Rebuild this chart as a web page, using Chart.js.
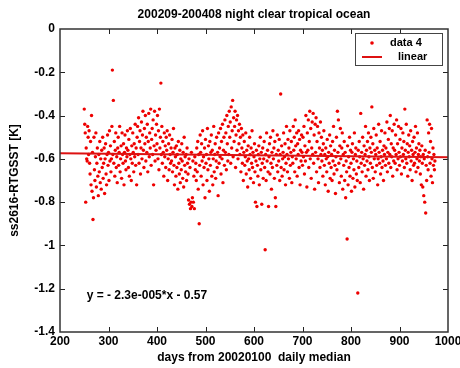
<!DOCTYPE html>
<html>
<head>
<meta charset="utf-8">
<script src="https://cdn.jsdelivr.net/npm/chart.js@4"></script>
<style>
  html, body { margin: 0; padding: 0; background: #fff; }
  canvas { display: block; }
</style>
</head>
<body>
<canvas id="median-chart" width="460" height="368"></canvas>
<script>
// days 250..973, one value per day (K)
const firstDay = 250;
const medianValues = [
  -0.37,-0.44,-0.48,-0.80,-0.55,-0.60,-0.61,-0.45,-0.50,-0.58,
  -0.47,-0.62,-0.67,-0.52,-0.72,-0.40,-0.75,-0.57,-0.88,-0.78,
  -0.50,-0.65,-0.70,-0.59,-0.48,-0.73,-0.62,-0.55,-0.68,-0.77,
  -0.58,-0.66,-0.52,-0.71,-0.60,-0.74,-0.56,-0.64,-0.50,-0.69,
  -0.62,-0.55,-0.76,-0.60,-0.53,-0.67,-0.72,-0.58,-0.49,-0.63,
  -0.57,-0.70,-0.47,-0.61,-0.54,-0.66,-0.60,-0.45,-0.19,-0.58,
  -0.33,-0.62,-0.52,-0.68,-0.56,-0.48,-0.64,-0.59,-0.71,-0.55,
  -0.50,-0.63,-0.57,-0.45,-0.66,-0.60,-0.54,-0.69,-0.48,-0.58,
  -0.62,-0.53,-0.72,-0.57,-0.49,-0.61,-0.65,-0.55,-0.59,-0.47,
  -0.56,-0.64,-0.51,-0.68,-0.58,-0.46,-0.60,-0.70,-0.54,-0.62,
  -0.48,-0.57,-0.66,-0.53,-0.59,-0.44,-0.63,-0.55,-0.72,-0.50,
  -0.45,-0.58,-0.41,-0.62,-0.52,-0.47,-0.67,-0.55,-0.43,-0.60,
  -0.49,-0.38,-0.56,-0.64,-0.46,-0.53,-0.40,-0.61,-0.50,-0.57,
  -0.44,-0.66,-0.52,-0.39,-0.59,-0.48,-0.55,-0.37,-0.63,-0.51,
  -0.46,-0.58,-0.42,-0.72,-0.54,-0.38,-0.61,-0.49,-0.56,-0.44,
  -0.53,-0.40,-0.60,-0.47,-0.65,-0.37,-0.55,-0.50,-0.25,-0.58,
  -0.45,-0.62,-0.52,-0.57,-0.68,-0.48,-0.59,-0.54,-0.64,-0.50,
  -0.56,-0.47,-0.70,-0.60,-0.53,-0.65,-0.49,-0.58,-0.62,-0.55,
  -0.61,-0.51,-0.66,-0.57,-0.46,-0.63,-0.72,-0.55,-0.59,-0.68,
  -0.54,-0.64,-0.58,-0.74,-0.52,-0.62,-0.67,-0.56,-0.71,-0.60,
  -0.65,-0.53,-0.61,-0.69,-0.57,-0.73,-0.50,-0.63,-0.59,-0.66,
  -0.58,-0.70,-0.55,-0.62,-0.67,-0.79,-0.60,-0.81,-0.64,-0.83,
  -0.80,-0.57,-0.82,-0.78,-0.61,-0.80,-0.68,-0.83,-0.59,-0.65,
  -0.62,-0.70,-0.55,-0.66,-0.52,-0.74,-0.58,-0.90,-0.63,-0.49,
  -0.57,-0.68,-0.53,-0.61,-0.47,-0.72,-0.59,-0.64,-0.55,-0.78,
  -0.51,-0.62,-0.58,-0.70,-0.46,-0.65,-0.54,-0.60,-0.75,-0.52,
  -0.63,-0.57,-0.49,-0.68,-0.56,-0.72,-0.60,-0.45,-0.66,-0.58,
  -0.53,-0.69,-0.61,-0.50,-0.64,-0.57,-0.77,-0.48,-0.62,-0.55,
  -0.59,-0.46,-0.67,-0.52,-0.60,-0.44,-0.71,-0.56,-0.50,-0.63,
  -0.42,-0.57,-0.48,-0.65,-0.40,-0.53,-0.61,-0.45,-0.58,-0.38,
  -0.50,-0.43,-0.62,-0.36,-0.55,-0.47,-0.33,-0.59,-0.41,-0.52,
  -0.45,-0.38,-0.64,-0.49,-0.42,-0.56,-0.40,-0.60,-0.47,-0.53,
  -0.44,-0.58,-0.50,-0.66,-0.46,-0.55,-0.62,-0.49,-0.70,-0.57,
  -0.52,-0.63,-0.59,-0.48,-0.67,-0.56,-0.61,-0.73,-0.54,-0.60,
  -0.65,-0.50,-0.58,-0.69,-0.55,-0.62,-0.47,-0.64,-0.57,-0.71,
  -0.59,-0.53,-0.66,-0.80,-0.61,-0.56,-0.82,-0.63,-0.68,-0.58,
  -0.54,-0.72,-0.60,-0.50,-0.65,-0.57,-0.81,-0.62,-0.55,-0.69,
  -0.60,-0.52,-0.64,-1.02,-0.58,-0.70,-0.48,-0.61,-0.56,-0.66,
  -0.82,-0.59,-0.53,-0.67,-0.50,-0.62,-0.74,-0.57,-0.64,-0.47,
  -0.60,-0.55,-0.69,-0.52,-0.78,-0.82,-0.58,-0.63,-0.49,-0.66,
  -0.56,-0.61,-0.51,-0.70,-0.58,-0.30,-0.64,-0.54,-0.68,-0.60,
  -0.57,-0.48,-0.65,-0.59,-0.53,-0.72,-0.62,-0.45,-0.58,-0.66,
  -0.51,-0.60,-0.55,-0.69,-0.47,-0.63,-0.57,-0.52,-0.71,-0.59,
  -0.62,-0.45,-0.56,-0.50,-0.66,-0.42,-0.54,-0.60,-0.48,-0.68,
  -0.53,-0.58,-0.47,-0.64,-0.51,-0.72,-0.56,-0.61,-0.49,-0.57,
  -0.63,-0.50,-0.59,-0.45,-0.67,-0.54,-0.61,-0.40,-0.57,-0.73,
  -0.48,-0.56,-0.42,-0.64,-0.52,-0.38,-0.60,-0.46,-0.69,-0.55,
  -0.43,-0.58,-0.39,-0.62,-0.49,-0.74,-0.44,-0.57,-0.41,-0.66,
  -0.52,-0.45,-0.60,-0.71,-0.48,-0.55,-0.64,-0.43,-0.58,-0.50,
  -0.61,-0.56,-0.68,-0.53,-0.47,-0.63,-0.58,-0.72,-0.55,-0.60,
  -0.66,-0.51,-0.59,-0.75,-0.57,-0.62,-0.49,-0.69,-0.54,-0.64,
  -0.58,-0.70,-0.52,-0.61,-0.45,-0.67,-0.56,-0.63,-0.76,-0.59,
  -0.50,-0.65,-0.38,-0.57,-0.42,-0.62,-0.71,-0.54,-0.46,-0.60,
  -0.68,-0.55,-0.48,-0.74,-0.58,-0.63,-0.52,-0.70,-0.57,-0.78,
  -0.61,-0.66,-0.97,-0.54,-0.72,-0.59,-0.64,-0.50,-0.68,-0.56,
  -0.62,-0.75,-0.57,-0.53,-0.69,-0.60,-0.65,-0.48,-0.73,-0.58,
  -0.55,-0.67,-0.61,-0.70,-1.22,-0.56,-0.64,-0.52,-0.59,-0.71,
  -0.39,-0.62,-0.57,-0.66,-0.50,-0.60,-0.74,-0.54,-0.63,-0.58,
  -0.45,-0.68,-0.56,-0.61,-0.52,-0.65,-0.48,-0.59,-0.70,-0.55,
  -0.62,-0.50,-0.57,-0.36,-0.64,-0.53,-0.69,-0.46,-0.60,-0.56,
  -0.66,-0.58,-0.49,-0.63,-0.55,-0.72,-0.60,-0.44,-0.57,-0.62,
  -0.52,-0.67,-0.59,-0.47,-0.64,-0.56,-0.61,-0.70,-0.54,-0.58,
  -0.48,-0.63,-0.55,-0.60,-0.43,-0.66,-0.57,-0.51,-0.62,-0.46,
  -0.58,-0.40,-0.64,-0.53,-0.59,-0.47,-0.68,-0.55,-0.61,-0.44,
  -0.56,-0.62,-0.49,-0.58,-0.42,-0.65,-0.53,-0.60,-0.45,-0.57,
  -0.63,-0.51,-0.59,-0.46,-0.67,-0.55,-0.61,-0.48,-0.58,-0.52,
  -0.64,-0.37,-0.56,-0.60,-0.44,-0.62,-0.53,-0.68,-0.57,-0.49,
  -0.59,-0.54,-0.65,-0.47,-0.61,-0.56,-0.70,-0.52,-0.58,-0.63,
  -0.50,-0.62,-0.57,-0.45,-0.66,-0.55,-0.60,-0.48,-0.64,-0.58,
  -0.53,-0.61,-0.56,-0.67,-0.59,-0.72,-0.54,-0.62,-0.73,-0.58,
  -0.77,-0.60,-0.80,-0.56,-0.85,-0.63,-0.70,-0.42,-0.59,-0.65,
  -0.48,-0.57,-0.44,-0.62,-0.52,-0.68,-0.46,-0.60,-0.71,-0.55,
  -0.63,-0.58,-0.65,-0.61
];

// linear fit y = -2.3e-005*x - 0.57, ends at the axis limits
const fitX = [200, 1000];
const fitY = [-0.5746, -0.593];

const xTicks = [200, 300, 400, 500, 600, 700, 800, 900, 1000];
const yTicks = [0, -0.2, -0.4, -0.6, -0.8, -1, -1.2, -1.4];

const RED = "#ee0000";
const FONT = "'Liberation Sans', Arial, sans-serif";

const points = medianValues.map((v, i) => ({ x: firstDay + i, y: v }));
const fitLine = fitX.map((x, i) => ({ x, y: fitY[i] }));

// khung, vạch chia phía trong, chú thích và phương trình
const frameDeco = {
  id: "frameDeco",
  afterDatasetsDraw(chart) {
    const { ctx, chartArea: a, scales } = chart;
    ctx.save();
    ctx.strokeStyle = "#222";
    ctx.lineWidth = 1;
    // inside ticks
    ctx.beginPath();
    xTicks.slice(1, -1).forEach((t) => {
      const px = Math.round(scales.x.getPixelForValue(t)) + 0.5;
      ctx.moveTo(px, a.bottom); ctx.lineTo(px, a.bottom - 5);
      ctx.moveTo(px, a.top); ctx.lineTo(px, a.top + 5);
    });
    yTicks.slice(1, -1).forEach((t) => {
      const py = Math.round(scales.y.getPixelForValue(t)) + 0.5;
      ctx.moveTo(a.left, py); ctx.lineTo(a.left + 5, py);
      ctx.moveTo(a.right, py); ctx.lineTo(a.right - 5, py);
    });
    ctx.stroke();
    // box
    ctx.lineWidth = 1.5;
    ctx.strokeStyle = "#333";
    ctx.strokeRect(a.left, a.top, a.right - a.left, a.bottom - a.top);

    // legend
    const lx = a.right - 93, ly = a.top + 4, lw = 87, lh = 32;
    ctx.fillStyle = "#fff";
    ctx.fillRect(lx, ly, lw, lh);
    ctx.lineWidth = 1;
    ctx.strokeStyle = "#444";
    ctx.strokeRect(lx + 0.5, ly + 0.5, lw, lh);
    ctx.fillStyle = RED;
    ctx.beginPath();
    ctx.arc(lx + 17, ly + 10, 1.8, 0, Math.PI * 2);
    ctx.fill();
    ctx.strokeStyle = "#dd1111";
    ctx.lineWidth = 2;
    ctx.beginPath();
    ctx.moveTo(lx + 7, ly + 24); ctx.lineTo(lx + 27, ly + 24);
    ctx.stroke();
    ctx.fillStyle = "#000";
    ctx.font = "bold 11px " + FONT;
    ctx.textBaseline = "middle";
    ctx.textAlign = "left";
    ctx.fillText("data 4", lx + 35, ly + 10);
    ctx.fillText("linear", lx + 43, ly + 24);

    // fit equation
    ctx.font = "bold 12px " + FONT;
    ctx.fillText("y = - 2.3e-005*x - 0.57",
      scales.x.getPixelForValue(255), scales.y.getPixelForValue(-1.234));
    ctx.restore();
  },
};

const whiteBg = {
  id: "whiteBg",
  beforeDraw(chart) {
    const { ctx, width, height } = chart;
    ctx.save();
    ctx.fillStyle = "#fff";
    ctx.fillRect(0, 0, width, height);
    ctx.restore();
  },
};

new Chart(document.getElementById("median-chart"), {
  type: "scatter",
  data: {
    datasets: [
      {
        label: "data 4",
        data: points,
        pointRadius: 1.7,
        pointBackgroundColor: RED,
        pointBorderWidth: 0,
        order: 2,
      },
      {
        type: "line",
        label: "linear",
        data: fitLine,
        borderColor: "#dd1111",
        borderWidth: 2,
        pointRadius: 0,
        fill: false,
        order: 1,
      },
    ],
  },
  options: {
    responsive: false,
    animation: false,
    layout: { padding: { left: 0, right: 12, top: 0, bottom: 0 } },
    plugins: {
      legend: { display: false },
      tooltip: { enabled: false },
      title: {
        display: true,
        fullSize: false,
        text: "200209-200408 night clear tropical ocean",
        color: "#000",
        font: { family: FONT, size: 12, weight: "bold" },
        padding: { top: 7, bottom: 7.6 },
      },
    },
    scales: {
      x: {
        type: "linear",
        min: 200,
        max: 1000,
        afterBuildTicks: (s) => { s.ticks = xTicks.map((v) => ({ value: v })); },
        afterFit: (s) => { s.height = 36; s.paddingLeft = 0; s.paddingRight = 0; },
        grid: { display: false, drawTicks: false, tickLength: 0 },
        border: { display: false },
        ticks: {
          color: "#000",
          padding: 2,
          maxRotation: 0,
          font: { family: FONT, size: 12, weight: "bold" },
          callback: (v) => String(v),
        },
        title: {
          display: true,
          text: "days from 20020100  daily median",
          color: "#000",
          font: { family: FONT, size: 12, weight: "bold" },
          padding: { top: 0, bottom: 3 },
        },
      },
      y: {
        min: -1.4,
        max: 0,
        afterBuildTicks: (s) => { s.ticks = yTicks.map((v) => ({ value: v })); },
        afterFit: (s) => { s.width = 60; s.paddingTop = 0; s.paddingBottom = 0; },
        grid: { display: false, drawTicks: false, tickLength: 0 },
        border: { display: false },
        ticks: {
          color: "#000",
          padding: 5,
          font: { family: FONT, size: 12, weight: "bold" },
          callback: (v) => String(Math.round(v * 10) / 10),
        },
        title: {
          display: true,
          text: "ss2616-RTGSST [K]",
          color: "#000",
          font: { family: FONT, size: 12, weight: "bold" },
          padding: { top: 7, bottom: 0 },
        },
      },
    },
  },
  plugins: [whiteBg, frameDeco],
});
</script>
</body>
</html>
